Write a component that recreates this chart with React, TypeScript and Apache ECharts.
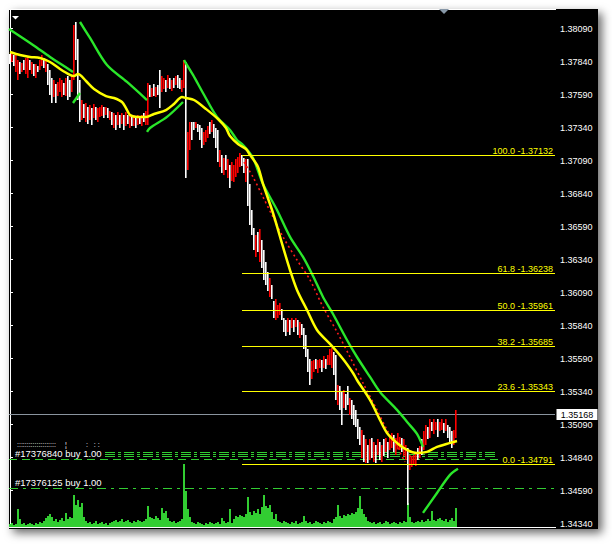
import React, { useEffect, useRef } from "react";
import * as echarts from "echarts";

const FONT = '"Liberation Sans", Arial, sans-serif';

// Price scale tick labels (right axis)
const priceTicks = [1.3434, 1.3459, 1.3484, 1.3509, 1.3534, 1.3559, 1.3584, 1.3609, 1.3634, 1.3659, 1.3684, 1.3709, 1.3734, 1.3759, 1.3784, 1.3809];

// Bars: highs / lows per bar (bar index 0..223)
const barHighs = [
  1.3790, 1.3791, 1.3789, 1.3791, 1.3785, 1.3784, 1.3783, 1.3785, 1.3787, 1.3788,
  1.3785, 1.3784, 1.3782, 1.3782, 1.3781, 1.3785, 1.3789, 1.3787, 1.3785, 1.3782,
  1.3778, 1.3772, 1.3770, 1.3767, 1.3769, 1.3772, 1.3770, 1.3768, 1.3772, 1.3773,
  1.3770, 1.3774, 1.3812, 1.3814, 1.3801, 1.3770, 1.3755, 1.3752, 1.3753, 1.3750,
  1.3751, 1.3749, 1.3752, 1.3750, 1.3749, 1.3750, 1.3751, 1.3750, 1.3750, 1.3749,
  1.3747, 1.3746, 1.3745, 1.3744, 1.3746, 1.3744, 1.3745, 1.3744, 1.3746, 1.3744,
  1.3744, 1.3743, 1.3744, 1.3742, 1.3744, 1.3743, 1.3744, 1.3745, 1.3747, 1.3768,
  1.3766, 1.3764, 1.3767, 1.3765, 1.3766, 1.3778, 1.3773, 1.3772, 1.3770, 1.3774,
  1.3772, 1.3770, 1.3772, 1.3773, 1.3774, 1.3772, 1.3770, 1.3785, 1.3784, 1.3731,
  1.3738, 1.3738, 1.3738, 1.3738, 1.3737, 1.3736, 1.3734, 1.3731, 1.3732, 1.3735,
  1.3738, 1.3740, 1.3737, 1.3734, 1.3732, 1.3717, 1.3713, 1.3711, 1.3713, 1.3710,
  1.3706, 1.3708, 1.3706, 1.3710, 1.3712, 1.3715, 1.3713, 1.3711, 1.3710, 1.3710,
  1.3691, 1.3672, 1.3658, 1.3653, 1.3655, 1.3657, 1.3649, 1.3641, 1.3632, 1.3625,
  1.3620, 1.3615, 1.3603, 1.3604, 1.3600, 1.3601, 1.3597, 1.3590, 1.3588, 1.3590,
  1.3588, 1.3590, 1.3588, 1.3590, 1.3588, 1.3587, 1.3585, 1.3582, 1.3577, 1.3566,
  1.3559, 1.3557, 1.3558, 1.3559, 1.3558, 1.3559, 1.3558, 1.3561, 1.3559, 1.3562,
  1.3566, 1.3567, 1.3564, 1.3562, 1.3539, 1.3538, 1.3534, 1.3535, 1.3532, 1.3538,
  1.3529, 1.3528, 1.3524, 1.3520, 1.3513, 1.3507, 1.3505, 1.3501, 1.3498, 1.3494,
  1.3498, 1.3499, 1.3496, 1.3494, 1.3498, 1.3496, 1.3494, 1.3498, 1.3499, 1.3496,
  1.3500, 1.3503, 1.3501, 1.3499, 1.3503, 1.3500, 1.3499, 1.3498, 1.3494, 1.3491,
  1.3486, 1.3485, 1.3486, 1.3488, 1.3491, 1.3493, 1.3498, 1.3504, 1.3509, 1.3507,
  1.3513, 1.3511, 1.3513, 1.3511, 1.3513, 1.3511, 1.3513, 1.3510, 1.3513, 1.3509,
  1.3507, 1.3504, 1.3505, 1.3520,
];

const barLows = [
  1.3782, 1.3784, 1.3781, 1.3776, 1.3770, 1.3775, 1.3776, 1.3778, 1.3775, 1.3772,
  1.3778, 1.3775, 1.3773, 1.3772, 1.3776, 1.3778, 1.3781, 1.3779, 1.3776, 1.3766,
  1.3759, 1.3753, 1.3757, 1.3753, 1.3758, 1.3761, 1.3757, 1.3759, 1.3758, 1.3755,
  1.3757, 1.3761, 1.3770, 1.3785, 1.3755, 1.3738, 1.3740, 1.3741, 1.3738, 1.3737,
  1.3740, 1.3736, 1.3741, 1.3740, 1.3738, 1.3742, 1.3743, 1.3741, 1.3744, 1.3741,
  1.3740, 1.3736, 1.3734, 1.3732, 1.3736, 1.3734, 1.3737, 1.3732, 1.3735, 1.3737,
  1.3734, 1.3735, 1.3735, 1.3734, 1.3736, 1.3737, 1.3735, 1.3738, 1.3736, 1.3736,
  1.3757, 1.3757, 1.3758, 1.3757, 1.3759, 1.3749, 1.3761, 1.3763, 1.3761, 1.3764,
  1.3763, 1.3762, 1.3764, 1.3766, 1.3764, 1.3763, 1.3761, 1.3764, 1.3696, 1.3702,
  1.3717, 1.3725, 1.3732, 1.3734, 1.3731, 1.3725, 1.3719, 1.3721, 1.3723, 1.3726,
  1.3729, 1.3731, 1.3726, 1.3719, 1.3708, 1.3704, 1.3700, 1.3698, 1.3702, 1.3696,
  1.3688, 1.3694, 1.3693, 1.3697, 1.3700, 1.3704, 1.3705, 1.3700, 1.3693, 1.3675,
  1.3660, 1.3653, 1.3641, 1.3636, 1.3640, 1.3632, 1.3628, 1.3619, 1.3615, 1.3610,
  1.3606, 1.3604, 1.3590, 1.3588, 1.3590, 1.3592, 1.3588, 1.3579, 1.3576, 1.3579,
  1.3577, 1.3582, 1.3579, 1.3583, 1.3577, 1.3575, 1.3577, 1.3566, 1.3560, 1.3549,
  1.3539, 1.3544, 1.3549, 1.3551, 1.3548, 1.3552, 1.3549, 1.3552, 1.3551, 1.3554,
  1.3554, 1.3552, 1.3547, 1.3528, 1.3524, 1.3520, 1.3509, 1.3522, 1.3520, 1.3524,
  1.3516, 1.3513, 1.3509, 1.3507, 1.3498, 1.3494, 1.3484, 1.3481, 1.3480, 1.3480,
  1.3482, 1.3484, 1.3481, 1.3480, 1.3486, 1.3482, 1.3481, 1.3485, 1.3488, 1.3484,
  1.3490, 1.3491, 1.3488, 1.3486, 1.3491, 1.3490, 1.3488, 1.3485, 1.3482, 1.3448,
  1.3475, 1.3477, 1.3479, 1.3478, 1.3482, 1.3484, 1.3486, 1.3490, 1.3494, 1.3498,
  1.3499, 1.3504, 1.3502, 1.3505, 1.3500, 1.3504, 1.3505, 1.3503, 1.3504, 1.3499,
  1.3496, 1.3491, 1.3494, 1.3499,
];

// R = rising bar (drawn red), W = falling bar (drawn white)
const barDirections =
  "WRWRRWRWRR" + "WRWRWRRWRW" + "WWRWRRRWRW" + "WRRWWWRWRW" + "RWRWRRRWRW" +
  "RWRWRWRWRW" + "RWRWRWRWRR" + "WRWRWWRRWR" + "WRWRWWRRWR" + "RWWRWWWRRR" +
  "WRWWWRWRWR" + "WRRRRRWWRW" + "WWWRWRWWWW" + "RWWRRRWWWR" + "WRWRWRWWWW" +
  "WRRWRRWRWR" + "RRWWRWWRWW" + "RWWWWWRWRW" + "RWRWRWRWRW" + "RRWRRRWRRW" +
  "RRRRWRWRRW" + "RWRRWRRWRW" + "WWRR";

// Tick volume per bar
const volumes = [
  3, 4, 2, 3, 18, 8, 3, 4, 2, 3, 4, 3, 2, 4, 3, 5, 4, 6, 9, 11, 13, 10,
  6, 8, 5, 7, 9, 6, 14, 8, 10, 9, 32, 22, 27, 20, 24, 10, 6,
  4, 5, 3, 4, 6, 3, 4, 5, 3, 4, 2, 4,
  5, 6, 7, 5, 6, 8, 5, 6, 7, 5, 4, 6, 5, 7, 6, 5,
  6, 8, 21, 10, 9, 8, 11, 9, 7, 19, 14, 16, 9, 6, 5, 6, 4, 5, 6, 8,
  63, 36, 18, 10,
  5, 4, 3, 5, 4, 3, 2, 4, 3, 5, 4, 3, 4, 5, 3, 9, 6, 4, 5, 18, 4,
  8, 11, 10, 12, 11, 10, 13, 30, 15, 12, 16, 14, 18, 13, 20, 32, 21, 19, 22, 15,
  8, 13, 6, 5, 4, 6, 5, 4, 3, 5, 4, 6, 3, 4, 5, 11, 6,
  4, 5, 3, 4, 6, 5, 4, 3, 5, 4, 6, 5, 4, 8, 10, 22, 11, 9, 12,
  11, 13, 12, 14, 13, 15, 19, 31, 18, 13, 10,
  6, 5, 4, 5, 3, 4, 5, 3, 4, 6, 5, 3, 4, 5, 4, 3, 5, 4, 6, 5,
  24, 10, 5,
  4, 5, 6, 5, 7, 5, 6, 8, 6, 16, 7, 6, 8, 9, 7, 6, 8, 5, 7, 9, 6, 19,
];

// Yellow moving average (bar index, price)
const maIdx = [0, 5, 10, 15, 20, 25, 30, 32, 34, 38, 42, 48, 52, 56, 58, 60, 64, 68, 72, 78, 82, 86, 88, 92, 98, 104, 108, 110, 114, 118, 120, 124, 126.5, 131.5, 136.5, 140, 143.5, 148.5, 153.5, 160, 166.5, 171.5, 173.5, 180, 185, 188.5, 193.5, 198.5, 203.5, 208.5, 213.5, 220, 223.5];
const maVals = [1.37914, 1.37891, 1.37876, 1.37868, 1.37838, 1.37785, 1.3774, 1.37732, 1.37748, 1.37694, 1.37634, 1.3758, 1.37565, 1.37535, 1.37489, 1.37437, 1.37422, 1.37422, 1.37444, 1.37474, 1.3752, 1.37573, 1.37565, 1.3755, 1.37482, 1.37406, 1.37338, 1.37277, 1.37217, 1.37179, 1.37134, 1.37043, 1.36914, 1.36694, 1.36437, 1.36262, 1.36111, 1.35959, 1.35808, 1.35702, 1.35588, 1.35482, 1.35429, 1.35278, 1.35126, 1.35028, 1.34952, 1.34899, 1.34876, 1.34884, 1.34922, 1.34952, 1.34967];

// Red dotted average
const redIdx = [117, 121.5, 126.5, 131.5, 136.5, 143.5, 150, 156.5, 163.5, 170, 176.5, 183.5, 188.5, 193.5, 197.5];
const redVals = [1.3708, 1.36967, 1.36815, 1.36663, 1.36513, 1.36338, 1.36187, 1.35982, 1.35793, 1.35603, 1.35406, 1.35202, 1.3505, 1.34922, 1.34808];

// Green stop-and-reverse segments: [bar index, price]
const sarSegments = [
  [[-0.5, 1.38088], [11.5, 1.37967], [20, 1.37876], [28.5, 1.37792], [31.5, 1.37762]],
  [[31.5, 1.37527], [35, 1.37603]],
  [[35, 1.38141], [40, 1.3802], [48.5, 1.37815], [58.5, 1.37687], [68.5, 1.3755]],
  [[68.5, 1.37308], [70, 1.37338], [78.5, 1.37422], [86.5, 1.37535]],
  [[87, 1.37853], [91.5, 1.3774], [96.5, 1.37603], [103.5, 1.37422], [110, 1.37323], [113.5, 1.37247], [116.5, 1.37209], [121.5, 1.37111], [126.5, 1.36914], [133.5, 1.36717], [140, 1.36513], [146.5, 1.36361], [151.5, 1.36217], [156.5, 1.36058], [161.5, 1.35929], [168.5, 1.35732], [173.5, 1.35603], [180, 1.35452], [185, 1.35338], [193.5, 1.35202], [199, 1.35103], [203.5, 1.3502], [206.5, 1.34922]],
  [[206.5, 1.34422], [213.5, 1.34573], [220, 1.3471], [224, 1.34756]],
];

// Fibonacci retracement
const fibLevels = [100.0, 61.8, 50.0, 38.2, 23.6, 0.0];
const fibPrices = [1.37132, 1.36238, 1.35961, 1.35685, 1.35343, 1.34791];
const fibStartIdx = 115.8;

// Order lines
const orderPrices = [1.3488, 1.34865, 1.3485, 1.34827, 1.34611];
const orderLabels = ["#17376840 buy 1.00", "#17376125 buy 1.00"];

const bidPrice = 1.35168;

export default function App() {
  const ref = useRef<HTMLDivElement>(null);

  useEffect(() => {
    const el = ref.current;
    if (!el) return;
    const chart = echarts.init(el, null, { renderer: "svg" });

    const barData = barHighs.map((h, i) => [i, barLows[i], h, barDirections[i] === "R" ? 1 : 0]);
    const volData = volumes.map((v, i) => [i, v]);

    const series: any[] = [
      {
        type: "custom",
        yAxisIndex: 1,
        z: 2,
        silent: true,
        encode: { x: 0, y: 1 },
        data: volData,
        renderItem: (_p: any, api: any) => {
          const i = api.value(0);
          const top = api.coord([i, api.value(1)]);
          const base = api.coord([i, 0]);
          const x = Math.round(top[0]) - 1;
          const y1 = Math.round(top[1]);
          const y2 = Math.round(base[1]);
          return { type: "rect", shape: { x, y: y1, width: 2, height: Math.max(1, y2 - y1) }, style: { fill: "#32cd32" } };
        },
      },
      {
        type: "custom",
        yAxisIndex: 0,
        z: 3,
        silent: true,
        encode: { x: 0, y: [1, 2] },
        data: barData,
        renderItem: (_p: any, api: any) => {
          const i = api.value(0);
          const lo = api.coord([i, api.value(1)]);
          const hi = api.coord([i, api.value(2)]);
          const x = Math.round(lo[0]) - 1;
          const y1 = Math.round(hi[1]);
          const y2 = Math.round(lo[1]);
          return {
            type: "rect",
            shape: { x, y: y1, width: 1.6, height: Math.max(1, y2 - y1) },
            style: { fill: api.value(3) ? "#ff0000" : "#ffffff" },
          };
        },
      },
      {
        type: "line",
        z: 5,
        silent: true,
        symbol: "none",
        smooth: 0.3,
        data: maIdx.map((x, i) => [x, maVals[i]]),
        lineStyle: { color: "#ffff00", width: 2.5 },
      },
      {
        type: "line",
        z: 4,
        silent: true,
        symbol: "none",
        smooth: 0.3,
        data: redIdx.map((x, i) => [x, redVals[i]]),
        lineStyle: { color: "#ff1a1a", width: 1.6, type: [2, 3] },
      },
      ...sarSegments.map((seg) => ({
        type: "line",
        z: 4,
        silent: true,
        symbol: "none",
        smooth: 0.3,
        data: seg,
        lineStyle: { color: "#2ae62a", width: 2.4 },
      })),
    ];

    chart.setOption({
      animation: false,
      backgroundColor: "#ffffff",
      grid: { left: 9, top: 10, width: 546, height: 517, outerBoundsMode: "none" },
      xAxis: { type: "value", min: -0.5, max: 272.5, show: false },
      yAxis: [
        {
          type: "value",
          position: "right",
          min: 1.34315,
          max: 1.38232,
          axisLine: { show: true, lineStyle: { color: "#ffffff", width: 1 } },
          axisTick: { show: true, length: 3, customValues: priceTicks, lineStyle: { color: "#ffffff" } },
          axisLabel: {
            show: true,
            customValues: priceTicks,
            formatter: (v: number) => v.toFixed(5),
            color: "#ffffff",
            fontSize: 9,
            fontFamily: FONT,
            margin: 5,
          },
          splitLine: { show: false },
        },
        { type: "value", min: 0, max: 517, show: false },
      ],
      series,
    });

    const toPx = (idx: number, price: number) => chart.convertToPixel({ seriesIndex: 1 }, [idx, price]) as number[];
    const py = (price: number) => Math.round(toPx(0, price)[1]) + 0.5;
    const g: any[] = [];

    // window background with shadow
    g.push({
      type: "rect",
      z: -10,
      silent: true,
      shape: { x: 9, y: 9, width: 589, height: 520 },
      style: { fill: "#000000", shadowBlur: 10, shadowColor: "rgba(0,0,0,0.6)", shadowOffsetX: 4, shadowOffsetY: 4 },
    });

    // order lines (behind bars)
    const orderStart = [105, 105, 105, 9, 9];
    const orderEnd = [498, 498, 498, 498, 555];
    const orderDash = [[10, 3, 3, 3], [10, 3, 3, 3], [10, 3, 3, 3], [8, 5], [9, 5, 3, 5]];
    orderPrices.forEach((p, k) => {
      const y = py(p);
      g.push({
        type: "line",
        z: 1,
        silent: true,
        shape: { x1: orderStart[k], y1: y, x2: orderEnd[k], y2: y },
        style: { stroke: "#32cd32", lineWidth: 1, lineDash: orderDash[k] },
      });
    });
    const yo1 = py(orderPrices[3]);
    const yo2 = py(orderPrices[4]);
    const small = { fill: "#ffffff", fontSize: 7, fontFamily: FONT, textAlign: "left", textVerticalAlign: "middle" };
    g.push({ type: "text", z: 10, silent: true, x: 15, y: yo1 - 6.5, style: { text: orderLabels[0], fill: "#ffffff", fontSize: 9.5, fontFamily: FONT, textAlign: "left", textVerticalAlign: "middle" } });
    g.push({ type: "text", z: 10, silent: true, x: 15, y: yo2 - 6, style: { text: orderLabels[1], fill: "#ffffff", fontSize: 9.5, fontFamily: FONT, textAlign: "left", textVerticalAlign: "middle" } });
    g.push({ type: "text", z: 10, silent: true, x: 17, y: yo1 - 15, style: { ...small, text: "::::::::::::::::::::" } });
    g.push({ type: "text", z: 10, silent: true, x: 65, y: yo1 - 15, style: { ...small, text: "¦" } });
    g.push({ type: "text", z: 10, silent: true, x: 86, y: yo1 - 15, style: { ...small, text: ":   : :" } });

    // bid line
    const yb = py(bidPrice);
    g.push({ type: "line", z: 1, silent: true, shape: { x1: 9, y1: yb, x2: 555, y2: yb }, style: { stroke: "#8a949e", lineWidth: 1 } });
    g.push({ type: "rect", z: 20, silent: true, shape: { x: 556.5, y: yb - 5.5, width: 41, height: 11 }, style: { fill: "#ffffff" } });
    g.push({ type: "text", z: 21, silent: true, x: 577, y: yb, style: { text: bidPrice.toFixed(5), fill: "#000000", fontSize: 9, fontFamily: FONT, textAlign: "center", textVerticalAlign: "middle" } });

    // fibonacci lines
    const fx = Math.round(toPx(fibStartIdx, fibPrices[0])[0]);
    fibPrices.forEach((p, k) => {
      const y = py(p);
      g.push({ type: "line", z: 10, silent: true, shape: { x1: fx, y1: y, x2: 555, y2: y }, style: { stroke: "#ffff00", lineWidth: 1 } });
      g.push({
        type: "text",
        z: 10,
        silent: true,
        x: 553,
        y: y - 0.5,
        style: { text: fibLevels[k].toFixed(1) + " -" + p.toFixed(5), fill: "#ffff00", fontSize: 9, fontFamily: FONT, textAlign: "right", textVerticalAlign: "bottom" },
      });
    });

    // plot frame
    g.push({ type: "line", z: 20, silent: true, shape: { x1: 9, y1: 9.5, x2: 556, y2: 9.5 }, style: { stroke: "#ffffff", lineWidth: 1 } });
    g.push({ type: "line", z: 20, silent: true, shape: { x1: 9, y1: 527.5, x2: 556, y2: 527.5 }, style: { stroke: "#ffffff", lineWidth: 1 } });

    // markers
    g.push({ type: "polygon", z: 20, silent: true, shape: { points: [[12, 16], [19, 16], [15.5, 19.5]] }, style: { fill: "#ffffff" } });
    g.push({ type: "polygon", z: 21, silent: true, shape: { points: [[439, 9], [449, 9], [444, 14]] }, style: { fill: "#8898a8" } });

    chart.setOption({ graphic: { elements: g } });

    return () => chart.dispose();
  }, []);

  return <div ref={ref} style={{ position: "absolute", left: 0, top: 0, width: 612, height: 544 }} />;
}
